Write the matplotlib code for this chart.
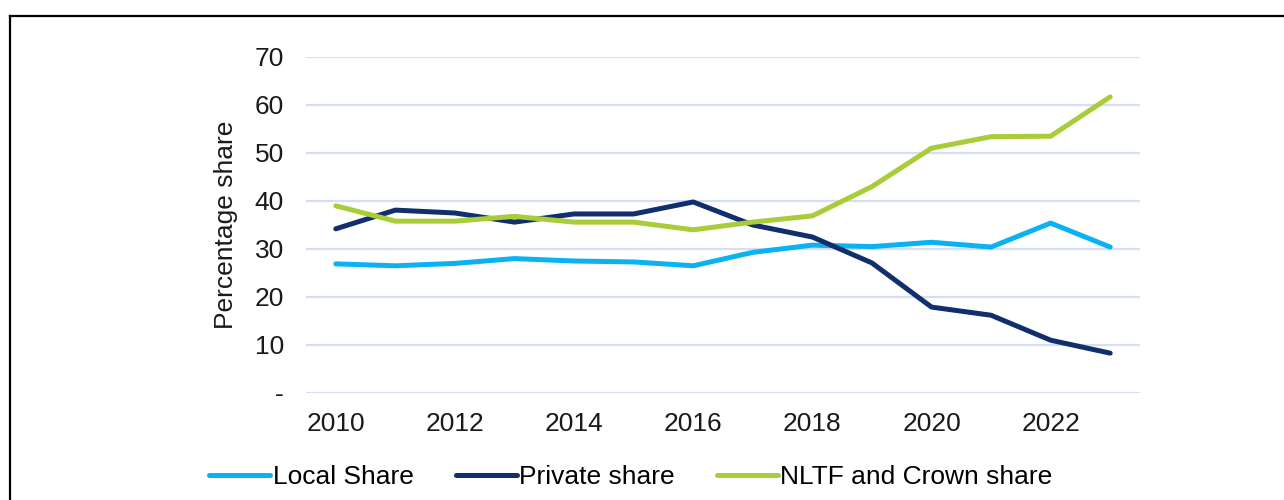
import matplotlib
matplotlib.use("Agg")
import matplotlib.pyplot as plt
from matplotlib.lines import Line2D

# data
years = [2010, 2011, 2012, 2013, 2014, 2015, 2016, 2017, 2018, 2019, 2020, 2021, 2022, 2023]
local_share = [26.9, 26.5, 27.0, 28.0, 27.5, 27.3, 26.5, 29.3, 30.8, 30.5, 31.4, 30.4, 35.4, 30.4]
private_share = [34.2, 38.1, 37.5, 35.6, 37.3, 37.3, 39.8, 35.0, 32.5, 27.1, 17.9, 16.2, 11.0, 8.3]
nltf_share = [39.0, 35.8, 35.8, 36.8, 35.6, 35.6, 34.0, 35.6, 36.9, 43.0, 51.0, 53.4, 53.5, 61.7]
series_names = ["Local Share", "Private share", "NLTF and Crown share"]
yticks = [0, 10, 20, 30, 40, 50, 60, 70]
ytick_labels = ["-", "10", "20", "30", "40", "50", "60", "70"]
xticks = [2010, 2012, 2014, 2016, 2018, 2020, 2022]

plt.rcParams["font.family"] = ["Liberation Sans", "DejaVu Sans"]

fig = plt.figure(figsize=(12.84, 5.0), dpi=100)
ax = fig.add_axes([306 / 1284, 1 - 393 / 500, (1140 - 306) / 1284, (393 - 57) / 500])

colors = ["#0ab2f2", "#102f6c", "#a8cd38"]
for vals, name, c in zip([local_share, private_share, nltf_share], series_names, colors):
    ax.plot(years, vals, color=c, lw=3.6, label=name, solid_capstyle="round")

ax.set_xlim(2009.5, 2023.5)
ax.set_ylim(0, 70)
ax.set_yticks(yticks)
ax.set_yticklabels(ytick_labels)
ax.set_xticks(xticks)
ax.tick_params(axis="both", length=0, labelsize=19, colors="#1a1a1a")
ax.tick_params(axis="y", pad=16)
ax.tick_params(axis="x", pad=14)
ax.grid(axis="y", color="#d6def6", lw=1.6)
ax.set_axisbelow(True)
for s in ax.spines.values():
    s.set_visible(False)
ax.set_ylabel("Percentage share", fontsize=19, color="#1a1a1a", labelpad=12)

handles, labels = ax.get_legend_handles_labels()
fig.legend(handles, labels, loc="center", bbox_to_anchor=(631 / 1284, 1 - 477 / 500),
           ncol=3, frameon=False, fontsize=19, handlelength=2.3, handletextpad=0.1,
           columnspacing=1.6)

# outer frame (top and left edges only visible)
fig.add_artist(Line2D([10 / 1284, 1.0], [1 - 16 / 500, 1 - 16 / 500], color="black", lw=1.6))
fig.add_artist(Line2D([10 / 1284, 10 / 1284], [0, 1 - 16 / 500], color="black", lw=1.6))

plt.savefig("out.png", dpi=100)
